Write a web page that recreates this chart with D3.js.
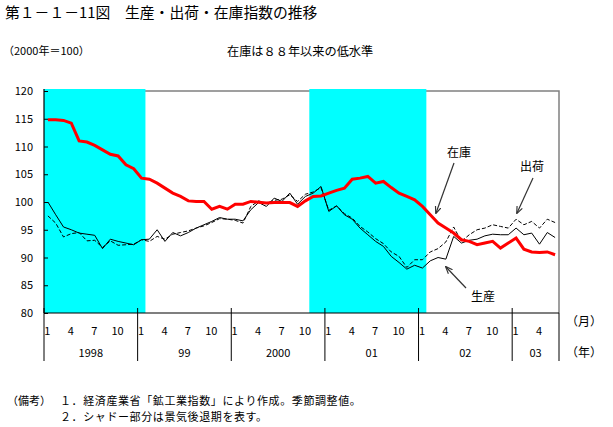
<!DOCTYPE html>
<html><head><meta charset="utf-8">
<script src="https://cdn.jsdelivr.net/npm/d3@7"></script>
<style>
body{margin:0;background:#fff}
svg text{font-family:"Noto Sans CJK JP","Noto Sans",sans-serif;fill:#000}
</style>
</head><body>
<svg id="chart" width="613" height="427"></svg>
<script>
// ---- data ----
const yearLabels = ["1998","99","2000","01","02","03"];
const yearMonthCounts = [12,12,12,12,12,6];
const monthTickLabels = [1,4,7,10];
const categories = [];
yearLabels.forEach((y,i)=>{ for(let m=1;m<=yearMonthCounts[i];m++) categories.push(y+"-"+m); });

const production = [
 100.0,97.7,95.5,95.0,94.4,94.2,94.0,91.6,93.3,92.9,92.6,92.3,
 93.2,93.3,95.0,92.9,94.5,93.9,94.5,95.3,95.9,96.5,97.2,96.9,
 96.9,96.6,98.6,99.9,99.2,100.7,100.1,101.6,99.6,101.0,101.6,102.8,
 98.3,99.3,97.7,96.9,95.3,94.1,92.9,92.0,90.2,89.1,87.9,88.6,
 88.1,89.4,90.0,89.7,93.8,92.6,93.1,93.3,93.9,94.2,94.1,94.1,
 95.3,94.1,94.4,92.4,94.5,93.6];
const shipments = [
 97.5,96.2,93.7,94.3,94.5,93.0,93.1,91.8,93.0,92.2,92.3,92.4,
 93.2,92.9,93.8,93.3,94.2,94.5,94.8,95.3,95.7,96.3,97.0,96.9,
 96.7,96.2,99.2,100.2,99.8,100.3,100.5,101.3,100.1,101.4,101.8,102.6,
 98.5,99.3,97.9,97.1,95.6,94.6,93.4,92.5,91.0,90.2,88.2,89.6,
 89.6,91.0,91.6,92.8,95.5,92.9,94.1,95.0,95.3,95.9,95.6,95.3,
 96.9,95.9,96.5,95.3,96.9,96.3];
const inventory = [
 114.8,114.8,114.7,114.2,111.0,110.8,110.2,109.4,108.6,108.3,106.7,106.0,
 104.3,104.1,103.4,102.5,101.6,101.0,100.2,100.1,100.1,98.7,99.2,98.7,
 99.6,99.6,100.1,99.95,99.8,99.9,99.9,99.9,99.2,100.2,101.0,101.1,
 101.6,102.1,102.5,104.1,104.3,104.6,103.4,103.7,102.6,101.6,101.0,100.4,
 99.2,97.7,96.2,95.3,94.4,93.2,92.9,92.3,92.6,92.9,91.7,92.6,
 93.5,91.5,91.0,90.9,91.0,90.5];
const recessions = [["1998-1","99-1"],["2000-11","02-1"]];
const yTicks = [80,85,90,95,100,105,110,115,120];

// ---- layout ----
const svg = d3.select("#chart");
const L=44, R=559, T=91, B=313;
const x = d3.scaleBand().domain(categories).range([L,R]).padding(0);
const y = d3.scaleLinear().domain([80,120]).range([B,T]);
const cx = c => x(c)+x.bandwidth()/2;

// titles
svg.append("text").attr("x",5).attr("y",18).style("font-size","14.8px")
  .text("第１－１－11図　生産・出荷・在庫指数の推移");
svg.append("text").attr("x",3).attr("y",55).style("font-size","11px").text("（2000年＝100）");
svg.append("text").attr("x",227).attr("y",56).style("font-size","12.2px").text("在庫は８８年以来の低水準");

// frame (top & right gray)
svg.append("path").attr("d",`M${L},${T}H${R}V${B}`).attr("fill","none").attr("stroke","#808080").attr("stroke-width",1.5);

// shading
recessions.forEach(([a,b])=>{
  svg.append("rect").attr("x",x(a)).attr("y",T-2)
    .attr("width",x(b)+x.bandwidth()-x(a)).attr("height",B-T+2).attr("fill","#00FFFF");
});

// y axis
const yAxis = d3.axisLeft(y).tickValues(yTicks).tickSizeInner(-4).tickSizeOuter(0).tickPadding(11);
const gy = svg.append("g").attr("transform",`translate(${L},0)`).call(yAxis);
gy.select(".domain").remove();
gy.selectAll("line").attr("stroke","#000");
gy.selectAll("text").style("font-size","11px").style("font-family","'Noto Sans CJK JP',sans-serif");
svg.append("line").attr("x1",L).attr("x2",L).attr("y1",T-2).attr("y2",B).attr("stroke","#000").attr("stroke-width",1.2);

// x axis line
svg.append("line").attr("x1",L).attr("x2",R).attr("y1",B).attr("y2",B).attr("stroke","#000").attr("stroke-width",1.2);
// year dividers
const yearStarts = yearLabels.map(yl=>yl+"-1");
const dividers = yearStarts.map(c=>x(c)).concat([R]);
dividers.forEach((d,i)=>{
  svg.append("line").attr("x1",d).attr("x2",d).attr("y1",i===dividers.length-1?B:B-5).attr("y2",361)
    .attr("stroke","#000").attr("stroke-width",1);
});
// month labels
categories.forEach(c=>{
  const m = +c.split("-")[1];
  if(monthTickLabels.includes(m)){
    svg.append("text").attr("x",cx(c)-0.5).attr("y",335).attr("text-anchor","middle")
      .style("font-size","11px").text(m);
  }
});
// year labels
yearLabels.forEach((yl,i)=>{
  const a = dividers[i], b = dividers[i+1];
  svg.append("text").attr("x",(a+b)/2).attr("y",357).attr("text-anchor","middle")
    .style("font-size","11px").text(yl);
});
svg.append("text").attr("x",566).attr("y",326).style("font-size","12px").text("（月）");
svg.append("text").attr("x",566).attr("y",357).style("font-size","12px").text("（年）");

// lines
const line = d3.line().x((d,i)=>cx(categories[i])).y(d=>y(d));
svg.append("path").datum(shipments).attr("d",line).attr("fill","none")
  .attr("stroke","#000").attr("stroke-width",1).attr("stroke-dasharray","4,2");
svg.append("path").datum(production).attr("d",line).attr("fill","none")
  .attr("stroke","#000").attr("stroke-width",1);
svg.append("path").datum(inventory).attr("d",line).attr("fill","none")
  .attr("stroke","#FF0000").attr("stroke-width",3);

// annotations
svg.append("defs").append("marker").attr("id","ah").attr("viewBox","0 0 10 10")
  .attr("refX",9).attr("refY",5).attr("markerWidth",6).attr("markerHeight",6).attr("orient","auto")
  .append("path").attr("d","M0,1L10,5L0,9").attr("fill","none").attr("stroke","#333").attr("stroke-width",1.6);
const arrows = [[454,163,436,213],[533,178,517,213],[466,288,446,267]];
arrows.forEach(a=>{
  svg.append("line").attr("x1",a[0]).attr("y1",a[1]).attr("x2",a[2]).attr("y2",a[3])
    .attr("stroke","#333").attr("stroke-width",1.2).attr("marker-end","url(#ah)");
});
svg.append("text").attr("x",447).attr("y",157).style("font-size","12px").text("在庫");
svg.append("text").attr("x",520).attr("y",171).style("font-size","12px").text("出荷");
svg.append("text").attr("x",471).attr("y",301).style("font-size","12px").text("生産");

// notes
svg.append("text").attr("x",7).attr("y",405).style("font-size","11px").text("（備考）");
svg.append("text").attr("x",60).attr("y",405).style("font-size","11px").style("letter-spacing","0.6px")
  .text("１．経済産業省「鉱工業指数」により作成。季節調整値。");
svg.append("text").attr("x",60).attr("y",421).style("font-size","11px").style("letter-spacing","0.6px")
  .text("２．シャドー部分は景気後退期を表す。");
</script>
</body></html>
